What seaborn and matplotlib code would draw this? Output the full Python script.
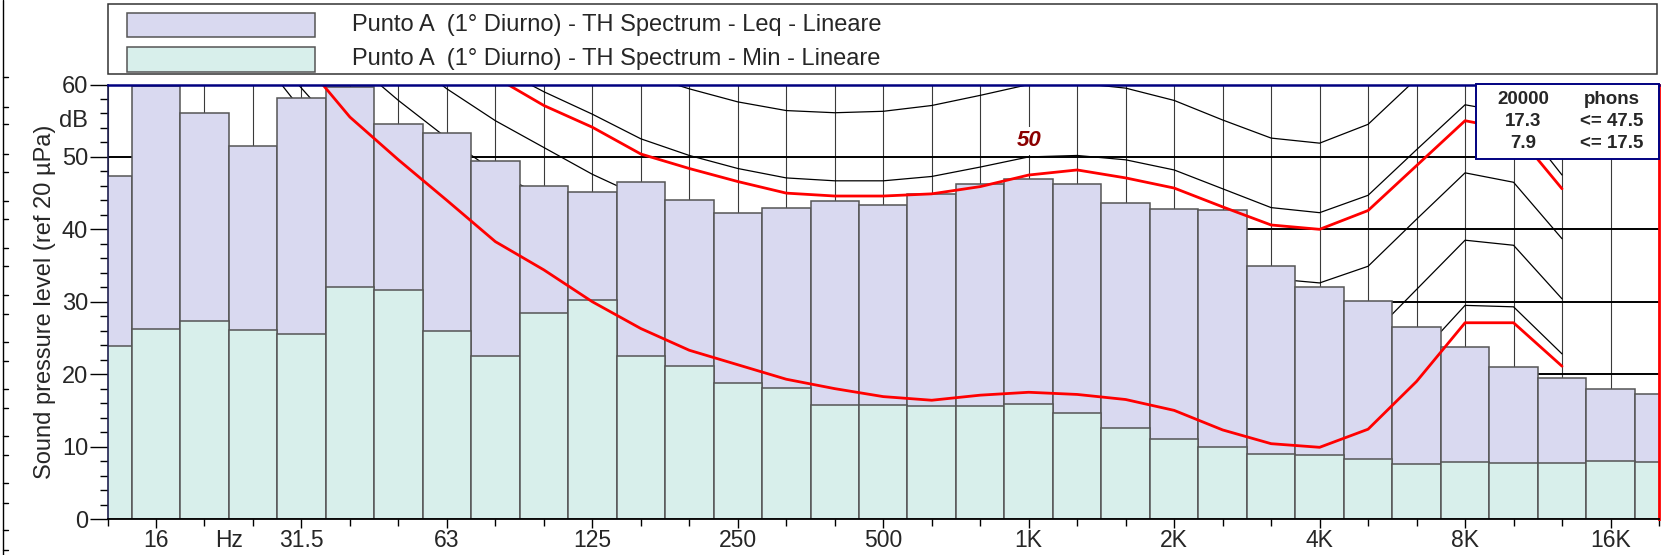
import numpy as np
import pandas as pd
import matplotlib
matplotlib.use("Agg")
import matplotlib.pyplot as plt
import matplotlib.transforms as mtransforms
from matplotlib.patches import Rectangle
from matplotlib.lines import Line2D
import seaborn as sns

# 1/3-octave band centres, 12.5 Hz .. 20 kHz
bands = ["12.5", "16", "20", "25", "31.5", "40", "50", "63", "80", "100",
         "125", "160", "200", "250", "315", "400", "500", "630", "800", "1K",
         "1.25K", "1.6K", "2K", "2.5K", "3.15K", "4K", "5K", "6.3K", "8K",
         "10K", "12.5K", "16K", "20K"]

# Band levels, dB ref 20 µPa
leq = [47.3, 59.8, 56.1, 51.5, 58.2, 59.6, 54.5, 53.3, 49.4, 46.0,
       45.1, 46.6, 44.1, 42.3, 42.9, 43.9, 43.3, 44.9, 46.2, 46.9,
       46.3, 43.6, 42.8, 42.7, 35.0, 32.1, 30.1, 26.5, 23.7, 21.0,
       19.5, 18.0, 17.3]
lmin = [23.9, 26.3, 27.4, 26.1, 25.5, 32.1, 31.6, 25.9, 22.5, 28.4,
        30.3, 22.5, 21.1, 18.8, 18.1, 15.8, 15.7, 15.6, 15.6, 15.9,
        14.7, 12.6, 11.0, 10.0, 9.0, 8.8, 8.3, 7.6, 7.9, 7.8,
        7.7, 8.0, 7.9]

leq_label = "Punto A  (1° Diurno) - TH Spectrum - Leq - Lineare"
min_label = "Punto A  (1° Diurno) - TH Spectrum - Min - Lineare"

# Labelled octave ticks
tick_bands = ["16", "31.5", "63", "125", "250", "500", "1K", "2K", "4K", "8K", "16K"]
y_ticks = [0, 10, 20, 30, 40, 50, 60]

# Equal-loudness contours (dB per band, starting at the named band)
phon0_from, phon0 = "25", [65.0, 56.5]
phon10_from, phon10 = "25", [67.2, 59.5, 52.0]
phon20_from, phon20 = "31.5", [63.3, 56.0, 52.0, 46.5, 40.8, 36.9, 32.5, 28.8, 25.8,
                               23.8, 22.0, 20.5, 19.4, 18.9, 19.5, 20.0, 19.7, 19.0,
                               17.5, 14.9, 12.9, 12.4, 14.9, 22.2, 29.5, 29.3, 22.8]
phon30_from, phon30 = "40", [63.5, 57.8, 52.6, 47.9, 44.5, 41.0, 38.0, 35.5, 33.3,
                             31.5, 30.0, 29.0, 28.5, 28.8, 30.0, 30.2, 29.5, 28.0,
                             25.5, 23.2, 22.5, 24.9, 31.7, 38.5, 37.8, 30.4]
phon40_from, phon40 = "50", [64.5, 59.4, 55.0, 51.3, 47.6, 44.5, 42.2, 40.2, 38.8,
                             37.8, 37.2, 37.3, 38.3, 40.0, 40.3, 39.6, 38.0, 35.5,
                             33.2, 32.6, 34.9, 41.4, 47.8, 46.5, 38.7]
phon50_from, phon50 = "80", [62.5, 59.0, 55.9, 52.5, 50.2, 48.4, 47.1, 46.7, 46.7,
                             47.3, 48.6, 50.0, 50.2, 49.6, 48.2, 45.6, 43.0, 42.3,
                             44.7, 51.0, 57.2, 56.0, 47.5]
phon60_from, phon60 = "160", [61.5, 59.4, 57.6, 56.4, 56.1, 56.3, 57.1, 58.5, 60.0,
                              60.2, 59.5, 57.8, 55.1, 52.6, 51.9, 54.5, 60.8]

# Loudness contours reached by the two spectra
loud_leq_from, loud_leq = "80", [61.0, 57.1, 54.1, 50.4, 48.4, 46.6, 45.0, 44.6, 44.6,
                                 44.9, 45.9, 47.5, 48.2, 47.1, 45.7, 43.1, 40.6, 40.0,
                                 42.6, 48.8, 55.0, 53.7, 45.6]
loud_min_from, loud_min = "31.5", [63.5, 55.5, 49.6, 44.0, 38.3, 34.4, 30.0, 26.3, 23.3,
                                   21.3, 19.3, 18.0, 16.9, 16.4, 17.1, 17.5, 17.2, 16.5,
                                   15.0, 12.3, 10.4, 9.9, 12.4, 19.0, 27.1, 27.1, 21.1]
contour_label, contour_label_band, contour_label_db = "50", "1K", 52.2

summary_head = ("20000", "phons")
summary_rows = [("17.3", "<= 47.5"), ("7.9", "<= 17.5")]

LEQ_C = "#d9d9f0"
MIN_C = "#d8efeb"
EDGE_C = "#555555"

W, H = 1662, 555
sns.set_style("white")
plt.rcParams["font.family"] = ["Liberation Sans", "DejaVu Sans"]
plt.rcParams["font.size"] = 17


def fx(p):
    return p / W


def fy(p):
    return 1 - p / H


fig = plt.figure(figsize=(W / 100, H / 100), dpi=100)
ax = fig.add_axes([fx(107.5), fy(519), fx(1659) - fx(107.5), fy(84.5) - fy(519)])

pos = np.arange(len(bands))
df = pd.DataFrame({"pos": pos, "Leq": leq, "Min": lmin})


def band_x(start, n):
    i0 = bands.index(start)
    return np.arange(i0, i0 + n)


# Background equal-loudness contours
for start, vals in [(phon0_from, phon0), (phon10_from, phon10), (phon20_from, phon20),
                    (phon30_from, phon30), (phon40_from, phon40), (phon50_from, phon50),
                    (phon60_from, phon60)]:
    sns.lineplot(x=band_x(start, len(vals)), y=vals, color="black", linewidth=0.9,
                 zorder=1.2, legend=False, ax=ax)

# Spectra: Leq behind, Min in front
sns.barplot(data=df, x="pos", y="Leq", native_scale=True, width=1.0, color=LEQ_C,
            saturation=1, edgecolor=EDGE_C, linewidth=1.1, errorbar=None, zorder=2, ax=ax)
sns.barplot(data=df, x="pos", y="Min", native_scale=True, width=1.0, color=MIN_C,
            saturation=1, edgecolor=EDGE_C, linewidth=1.1, errorbar=None, zorder=2.1, ax=ax)

# Loudness contours of the spectra
for start, vals in [(loud_leq_from, loud_leq), (loud_min_from, loud_min)]:
    sns.lineplot(x=band_x(start, len(vals)), y=vals, color="#ff0000", linewidth=2.0,
                 zorder=3, legend=False, ax=ax)

ax.set_xlim(0, len(bands) - 1)
ax.set_ylim(0, 60)
ax.set_xlabel("")
ax.set_ylabel("Sound pressure level (ref 20 µPa)", fontsize=17, labelpad=4)

major_x = [bands.index(b) for b in tick_bands]
ax.set_xticks(major_x)
ax.set_xticklabels(tick_bands)
ax.set_xticks(pos, minor=True)
ax.set_yticks(y_ticks)
ax.set_yticklabels([str(v) for v in y_ticks])
ax.set_yticks(np.arange(0, 61, 2), minor=True)

ax.tick_params(axis="x", which="major", direction="out", length=6.5, width=1,
               color="black", pad=0.5, labelsize=16.5, bottom=True)
ax.tick_params(axis="x", which="minor", direction="out", length=5, width=1,
               color="black", bottom=True)
ax.tick_params(axis="y", which="major", direction="out", length=13, width=1,
               color="black", pad=1, labelsize=17, left=True)
ax.tick_params(axis="y", which="minor", direction="out", length=6, width=1,
               color="black", left=True)

ax.set_axisbelow(True)
ax.grid(axis="x", which="both", color="#3a3a3a", linewidth=0.8)
ax.grid(axis="y", which="major", color="black", linewidth=1.4)

for side, col, lw in [("top", "#000080", 1.8), ("left", "#202050", 1.2),
                      ("bottom", "black", 1.3), ("right", "#ff0000", 2.0)]:
    ax.spines[side].set_visible(True)
    ax.spines[side].set_color(col)
    ax.spines[side].set_linewidth(lw)
    ax.spines[side].set_zorder(4)

# Unit labels beside the tick labels
hz_trans = ax.get_xaxis_transform() + mtransforms.ScaledTranslation(0, -7.0 / 72, fig.dpi_scale_trans)
ax.text(2.5, 0, "Hz", transform=hz_trans, ha="center", va="top", fontsize=16.5)
db_trans = ax.get_yaxis_transform() + mtransforms.ScaledTranslation(-14 / 72, 0, fig.dpi_scale_trans)
ax.text(0, 55, "dB", transform=db_trans, ha="right", va="center", fontsize=17)

# Phon label on the 50-phon contour
ax.text(bands.index(contour_label_band), contour_label_db, contour_label, color="#8b0000",
        fontsize=16, fontweight="bold", fontstyle="italic", ha="center", va="center",
        zorder=2.5, bbox=dict(facecolor="white", edgecolor="none", pad=2.5))

# Summary box
bx0 = (1476 - 107.5) / (1659 - 107.5)
by0 = (519 - 158.5) / (519 - 84.5)
ax.add_patch(Rectangle((bx0, by0), 1 - bx0, 1 - by0, transform=ax.transAxes,
                       facecolor="white", edgecolor="#000080", linewidth=1.4,
                       zorder=5, clip_on=False))
col_x = [(1523 - 107.5) / (1659 - 107.5), (1612 - 107.5) / (1659 - 107.5)]
row_y = [(519 - 100) / (519 - 84.5), (519 - 121.5) / (519 - 84.5), (519 - 143) / (519 - 84.5)]
for r, row in enumerate([summary_head] + summary_rows):
    for c, txt in enumerate(row):
        ax.text(col_x[c], row_y[r], txt, transform=ax.transAxes, ha="center", va="center",
                fontsize=13.5, fontweight="bold", zorder=6)

# Legend frame across the top
fig.add_artist(Rectangle((fx(107.5), fy(74)), fx(1657) - fx(107.5), fy(3.5) - fy(74),
                         transform=fig.transFigure, facecolor="white",
                         edgecolor="#333333", linewidth=1.1))
for (top, bottom), color, label in [((13, 37), LEQ_C, leq_label), ((47, 72), MIN_C, min_label)]:
    fig.add_artist(Rectangle((fx(127), fy(bottom)), fx(315) - fx(127), fy(top) - fy(bottom),
                             transform=fig.transFigure, facecolor=color,
                             edgecolor=EDGE_C, linewidth=1.1))
    fig.text(fx(352), fy((top + bottom) / 2), label, ha="left", va="center", fontsize=17)

# Frame edge at the far left
fig.add_artist(Line2D([fx(2.5), fx(2.5)], [0, 1], transform=fig.transFigure,
                      color="black", linewidth=1.0))
for yy in np.concatenate([np.arange(77, 555, 47.3), np.arange(107, 555, 47.0)]):
    fig.add_artist(Line2D([fx(2.5), fx(8)], [fy(yy), fy(yy)], transform=fig.transFigure,
                          color="black", linewidth=1.0))

fig.savefig("out.png", dpi=100)
